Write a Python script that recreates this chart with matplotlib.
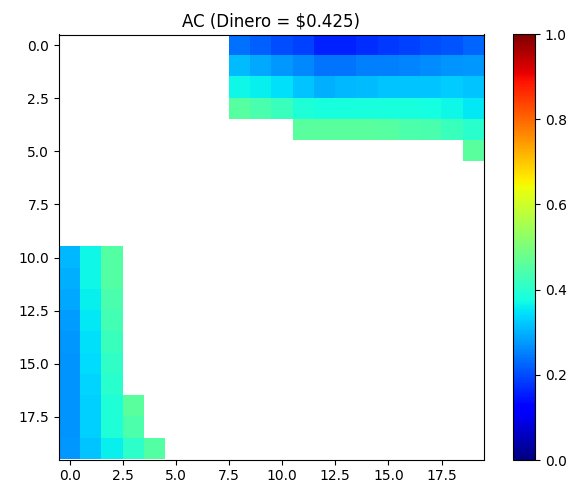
import numpy as np
import matplotlib
matplotlib.use('Agg')
import matplotlib.pyplot as plt

title = 'AC (Dinero = $0.425)'
n = 20

# top-right block: (row, first column, values to column 19)
top_rows = [
    (0, 8, [0.235, 0.22, 0.20, 0.19, 0.16, 0.16, 0.17, 0.18, 0.19, 0.20, 0.21, 0.225]),
    (1, 8, [0.31, 0.29, 0.275, 0.26, 0.24, 0.24, 0.25, 0.25, 0.255, 0.265, 0.27, 0.275]),
    (2, 8, [0.37, 0.36, 0.345, 0.32, 0.30, 0.305, 0.31, 0.32, 0.32, 0.32, 0.325, 0.32]),
    (3, 8, [0.455, 0.44, 0.42, 0.39, 0.38, 0.38, 0.38, 0.38, 0.38, 0.375, 0.37, 0.355]),
    (4, 11, [0.46, 0.46, 0.46, 0.46, 0.455, 0.445, 0.44, 0.42, 0.40]),
    (5, 19, [0.46]),
]

# bottom-left block: (column, first row, values to row 19)
left_cols = [
    (0, 10, [0.305, 0.30, 0.29, 0.28, 0.275, 0.27, 0.27, 0.27, 0.27, 0.275]),
    (1, 10, [0.37, 0.37, 0.36, 0.355, 0.345, 0.34, 0.335, 0.33, 0.33, 0.32]),
    (2, 10, [0.45, 0.45, 0.44, 0.43, 0.42, 0.41, 0.40, 0.39, 0.39, 0.36]),
    (3, 17, [0.46, 0.445, 0.405]),
    (4, 19, [0.45]),
]

grid = np.full((n, n), np.nan)
for r, c0, vals in top_rows:
    grid[r, c0:c0 + len(vals)] = vals
for c, r0, vals in left_cols:
    grid[r0:r0 + len(vals), c] = vals

fig = plt.figure(figsize=(5.73, 4.9), dpi=100)
ax = fig.add_axes([59 / 573, 30 / 490, 425 / 573, 426 / 490])
im = ax.imshow(grid, cmap='jet', vmin=0, vmax=1, interpolation='nearest')
ax.set_title(title, fontsize=12)
ax.set_xticks(np.arange(0, 20, 2.5))
ax.set_yticks(np.arange(0, 20, 2.5))
ax.tick_params(labelsize=10)

cax = fig.add_axes([513 / 573, 30 / 490, 22 / 573, 426 / 490])
cb = fig.colorbar(im, cax=cax)
cb.set_ticks([0.0, 0.2, 0.4, 0.6, 0.8, 1.0])
cb.ax.tick_params(labelsize=10)

fig.savefig('out.png', dpi=100)
